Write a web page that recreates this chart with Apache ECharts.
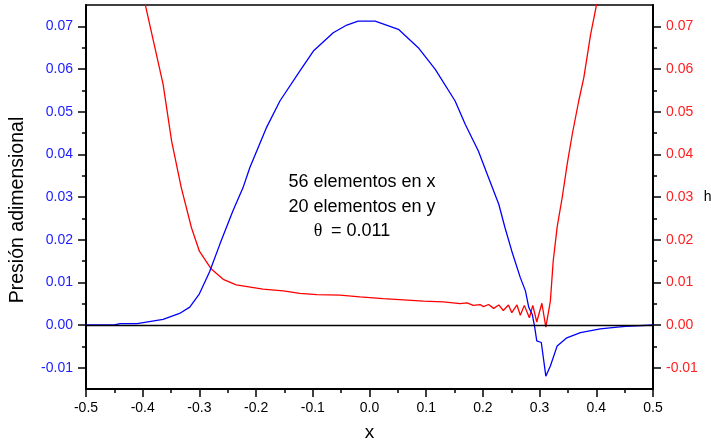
<!DOCTYPE html>
<html>
<head>
<meta charset="utf-8">
<script src="https://cdn.jsdelivr.net/npm/echarts@6/dist/echarts.min.js"></script>
<style>
  html, body { margin: 0; padding: 0; background: #fff; }
  #chart { width: 711px; height: 440px; }
</style>
</head>
<body>
<div id="chart"></div>
<script>
// Dimensionless pressure along x (left axis)
const pressX = [-0.5, -0.45, -0.44, -0.41, -0.364, -0.335, -0.317, -0.30, -0.282, -0.264,
  -0.241, -0.223, -0.211, -0.182, -0.158, -0.123, -0.099, -0.064, -0.040, -0.020,
  0.010, 0.051, 0.086, 0.116, 0.151, 0.169, 0.192, 0.210, 0.228, 0.239,
  0.251, 0.266, 0.275, 0.281, 0.287, 0.291, 0.295, 0.303, 0.311, 0.319,
  0.331, 0.348, 0.372, 0.407, 0.437, 0.452, 0.5];
const pressY = [0, 0, 0.0003, 0.0003, 0.0013, 0.0027, 0.0042, 0.0073, 0.0125, 0.0189,
  0.0267, 0.0322, 0.0369, 0.0462, 0.0525, 0.0595, 0.0642, 0.0685, 0.0703, 0.0712,
  0.0712, 0.0693, 0.0650, 0.0599, 0.0525, 0.0470, 0.0408, 0.0345, 0.0283, 0.0228,
  0.0173, 0.0111, 0.0080, 0.0041, 0.0025, -0.0002, -0.0037, -0.0041, -0.0120, -0.0096,
  -0.0049, -0.0030, -0.0018, -0.0009, -0.0005, -0.0003, 0];

// Film thickness h along x (right axis)
const hX = [-0.41, -0.395, -0.364, -0.349, -0.332, -0.314, -0.300, -0.279, -0.258, -0.235,
  -0.188, -0.152, -0.123, -0.093, -0.052, -0.017, 0.024, 0.060, 0.095, 0.130,
  0.160, 0.172, 0.183, 0.195, 0.201, 0.210, 0.219, 0.228, 0.236, 0.245,
  0.251, 0.260, 0.266, 0.273, 0.282, 0.288, 0.295, 0.304, 0.311, 0.319,
  0.324, 0.331, 0.340, 0.349, 0.358, 0.369, 0.378, 0.390, 0.400, 0.41];
const hY = [0.084, 0.0748, 0.0564, 0.0431, 0.0322, 0.0228, 0.0173, 0.0131, 0.0107, 0.0094,
  0.0084, 0.0080, 0.0074, 0.0071, 0.0070, 0.0066, 0.0062, 0.0059, 0.0056, 0.0054,
  0.0050, 0.0052, 0.0046, 0.0048, 0.0043, 0.0048, 0.0039, 0.0047, 0.0034, 0.0047,
  0.0029, 0.0047, 0.0023, 0.0046, 0.0017, 0.0046, 0.0007, 0.0051, -0.0005, 0.0056,
  0.0150, 0.0230, 0.0300, 0.0380, 0.0450, 0.0525, 0.0580, 0.0681, 0.0748, 0.081];

// Axis tick values
const yMajor = [-0.01, 0.00, 0.01, 0.02, 0.03, 0.04, 0.05, 0.06, 0.07];
const yMinor = [-0.005, 0.005, 0.015, 0.025, 0.035, 0.045, 0.055, 0.065];
const infoLines = ['56 elementos en x', '20 elementos en y', '= 0.011'];

const FONT = '"Liberation Sans", Arial, sans-serif';
const Y_MIN = -0.015, Y_MAX = 0.075;

function majorAxis(pos, color, name) {
  const left = pos === 'left';
  return {
    type: 'value', position: pos, min: Y_MIN, max: Y_MAX,
    name: name,
    nameLocation: 'middle',
    nameGap: left ? 58 : 50,
    nameRotate: left ? 90 : 0,
    nameTextStyle: left
      ? { fontFamily: FONT, fontSize: 19.5, color: '#000', padding: [0, 26, 0, 0] }
      : { fontFamily: FONT, fontSize: 14, color: '#000' },
    axisLine: { show: true, onZero: false, lineStyle: { color: '#000', width: 2 } },
    axisTick: { show: true, length: 8, customValues: yMajor, lineStyle: { color: '#000', width: 1.5 } },
    axisLabel: {
      customValues: yMajor, margin: 13, fontFamily: FONT, fontSize: 14, color: color,
      formatter: v => v.toFixed(2)
    },
    splitLine: { show: false }
  };
}
function minorAxis(pos) {
  return {
    type: 'value', position: pos, min: Y_MIN, max: Y_MAX,
    axisLine: { show: false, onZero: false },
    axisTick: { show: true, length: 4, customValues: yMinor, lineStyle: { color: '#000', width: 1.5 } },
    axisLabel: { show: false },
    splitLine: { show: false }
  };
}

const chart = echarts.init(document.getElementById('chart'), null, { renderer: 'canvas' });
chart.setOption({
  animation: false,
  backgroundColor: '#fff',
  grid: {
    left: 86, right: 58, top: 5, bottom: 51,
    outerBoundsMode: 'none', containLabel: false,
    show: true, borderColor: '#000', borderWidth: 1.5
  },
  xAxis: {
    type: 'value', min: -0.5, max: 0.5, interval: 0.1,
    name: 'x', nameLocation: 'middle', nameGap: 34,
    nameTextStyle: { fontFamily: FONT, fontSize: 19, color: '#000' },
    axisLine: { show: true, onZero: false, lineStyle: { color: '#000', width: 2 } },
    axisTick: { show: true, length: 8, lineStyle: { color: '#000', width: 1.5 } },
    minorTick: { show: true, splitNumber: 2, length: 4, lineStyle: { color: '#000', width: 1.5 } },
    axisLabel: { margin: 12, fontFamily: FONT, fontSize: 14, color: '#000', formatter: v => v.toFixed(1) },
    splitLine: { show: false }
  },
  yAxis: [
    majorAxis('left', '#2020ff', 'Presión adimensional'),
    majorAxis('right', '#ff2020', 'h'),
    minorAxis('left'),
    minorAxis('right')
  ],
  series: [
    {
      type: 'line', yAxisIndex: 0, symbol: 'none', clip: true,
      data: pressX.map((x, i) => [x, pressY[i]]),
      lineStyle: { color: '#0000ff', width: 1.3 },
      markLine: {
        silent: true, symbol: 'none', label: { show: false },
        lineStyle: { color: '#000', width: 1.3, type: 'solid' },
        data: [{ yAxis: 0 }]
      },
      z: 3
    },
    {
      type: 'line', yAxisIndex: 1, symbol: 'none', clip: true,
      data: hX.map((x, i) => [x, hY[i]]),
      lineStyle: { color: '#ff0000', width: 1.3 },
      z: 2
    }
  ],
  graphic: [
    { type: 'text', x: 362, y: 182, style: { text: infoLines[0], font: '18px ' + FONT, fill: '#000', textAlign: 'center', textVerticalAlign: 'middle' } },
    { type: 'text', x: 362, y: 207, style: { text: infoLines[1], font: '18px ' + FONT, fill: '#000', textAlign: 'center', textVerticalAlign: 'middle' } },
    { type: 'text', x: 318, y: 231, style: { text: 'θ', font: '18px "Liberation Serif", serif', fill: '#000', textAlign: 'center', textVerticalAlign: 'middle' } },
    { type: 'text', x: 331, y: 231, style: { text: infoLines[2], font: '18px ' + FONT, fill: '#000', textAlign: 'left', textVerticalAlign: 'middle' } }
  ]
});
</script>
</body>
</html>
